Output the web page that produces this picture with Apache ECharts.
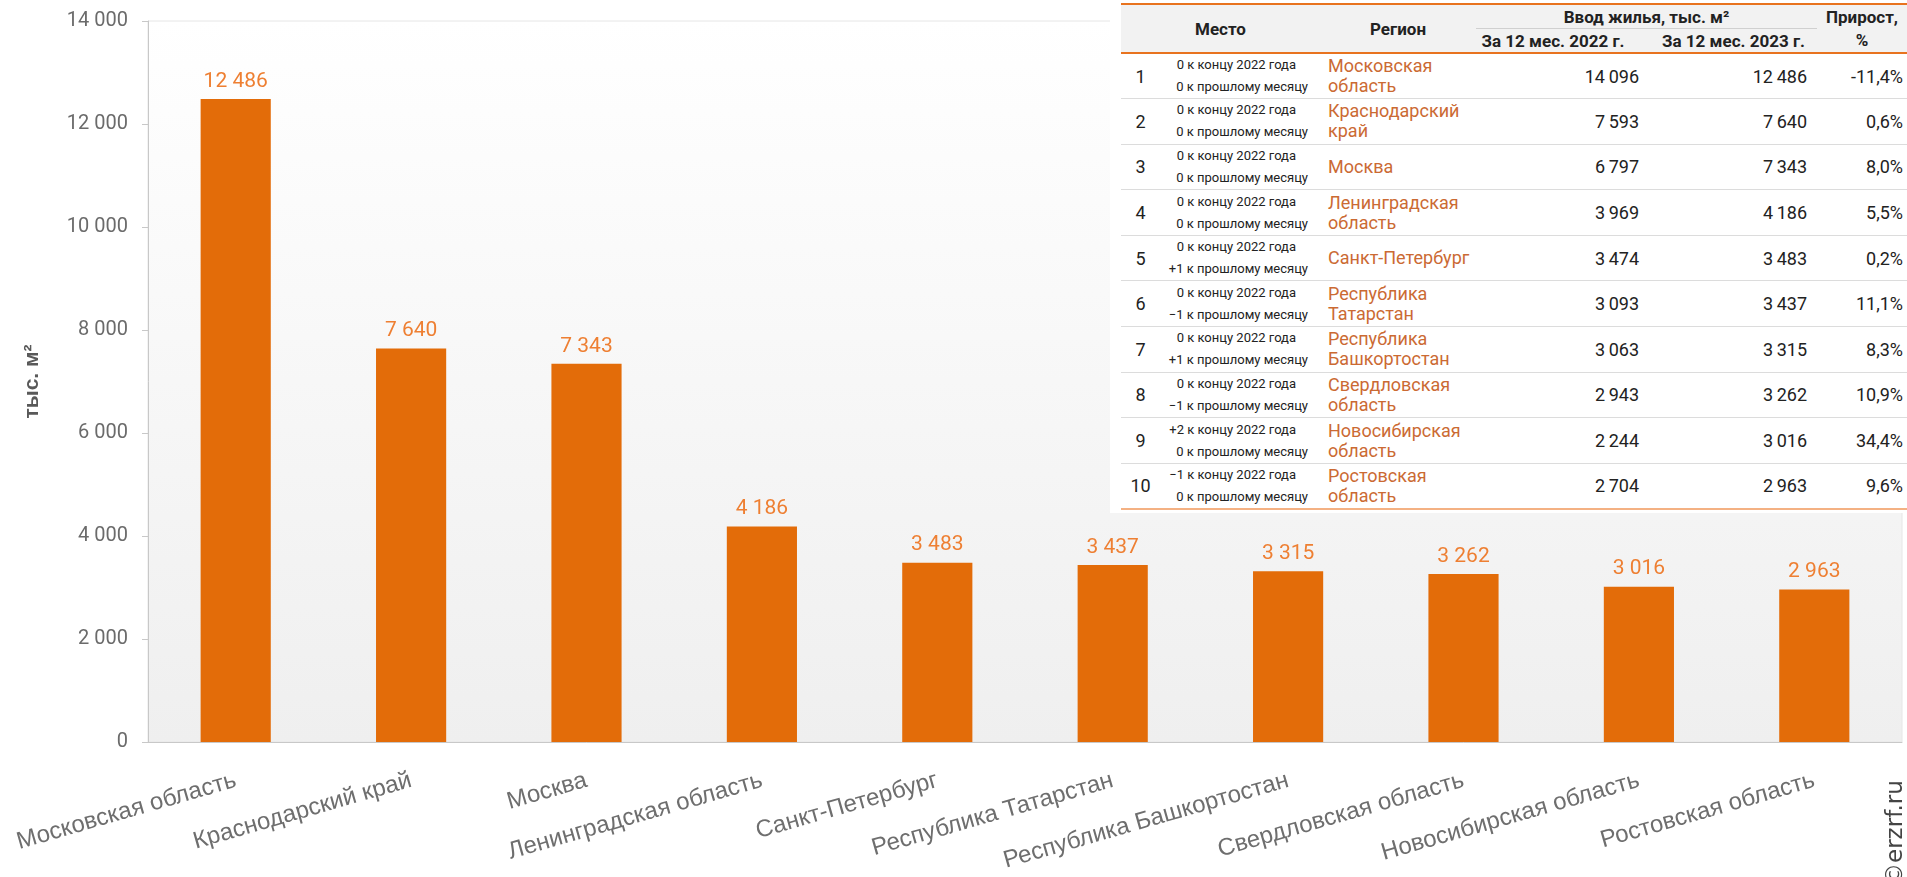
<!DOCTYPE html>
<html>
<head>
<meta charset="utf-8">
<title>Ввод жилья по регионам</title>
<script src="https://cdn.jsdelivr.net/npm/echarts@6/dist/echarts.min.js"></script>
<style>
  html, body { margin: 0; padding: 0; width: 1907px; height: 877px; overflow: hidden; background: #fff; }
  #chart { position: absolute; left: 0; top: 0; width: 1907px; height: 877px; }
  #tblBox { position: absolute; left: 1110px; top: 0; width: 797px; height: 513px; background: #fff; overflow: hidden; }
  #tbl { position: absolute; left: 11px; top: 3px; width: 786px; border-collapse: collapse; table-layout: fixed;
         font-family: Roboto, 'Noto Sans', sans-serif; color: #222; }
  #tbl th { font-weight: bold; font-size: 17px; padding: 0; background: #f2f2f2; line-height: 20px; }
  #tbl thead tr:first-child th { border-top: 2px solid #e8731f; }
  #tbl thead tr:last-child th, #tbl th.tall { border-bottom: 2px solid #e8731f; }
  #tbl th.sub { border-bottom: 1px solid #d0d0d0; }
  #tbl thead tr th { height: 23px; }
  #tbl td { height: 45.6px; box-sizing: border-box; padding: 0; border-bottom: 1px solid #dcdcdc; font-size: 18px; }
  #tbl tbody tr:last-child td { border-bottom: 2px solid #f4b183; }
  .rank { text-align: center; }
  .chg { text-align: right; font-size: 13px !important; line-height: 22px; }
  .chg div.l1 { padding-right: 24px; }
  .chg div.l2 { padding-right: 12px; }
  .reg { color: #cb6a33; padding-left: 8px !important; line-height: 20px; }
  .num { text-align: right; }
</style>
</head>
<body>
<div id="chart"></div>
<div id="tblBox">
  <table id="tbl">
    <colgroup>
      <col style="width:39px"><col style="width:160px"><col style="width:156px">
      <col style="width:170px"><col style="width:171px"><col style="width:90px">
    </colgroup>
    <thead>
      <tr>
        <th colspan="2" rowspan="2" class="tall">Место</th>
        <th rowspan="2" class="tall">Регион</th>
        <th colspan="2" class="sub">Ввод жилья, тыс. м²</th>
        <th>Прирост,</th>
      </tr>
      <tr>
        <th style="padding-right:16px">За 12 мес. 2022 г.</th>
        <th style="padding-left:4px">За 12 мес. 2023 г.</th>
        <th>%</th>
      </tr>
    </thead>
    <tbody id="tbody"></tbody>
  </table>
</div>
<script>
// data
var regions = ['Московская область', 'Краснодарский край', 'Москва', 'Ленинградская область',
  'Санкт-Петербург', 'Республика Татарстан', 'Республика Башкортостан',
  'Свердловская область', 'Новосибирская область', 'Ростовская область'];
var area2023 = [12486, 7640, 7343, 4186, 3483, 3437, 3315, 3262, 3016, 2963];
var area2022 = [14096, 7593, 6797, 3969, 3474, 3093, 3063, 2943, 2244, 2704];
var growth = [-11.4, 0.6, 8.0, 5.5, 0.2, 11.1, 8.3, 10.9, 34.4, 9.6];
var placeVsYear = ['0', '0', '0', '0', '0', '0', '0', '0', '+2', '\u22121'];
var placeVsMonth = ['0', '0', '0', '0', '+1', '\u22121', '+1', '\u22121', '0', '0'];

var yMin = 0, yMax = 14000, yStep = 2000;

function fmt(n, sep) {
  return String(n).replace(/\B(?=(\d{3})+(?!\d))/g, sep || ' ');
}

// table
var rows = '';
for (var i = 0; i < regions.length; i++) {
  rows += '<tr>' +
    '<td class="rank">' + (i + 1) + '</td>' +
    '<td class="chg"><div class="l1">' + placeVsYear[i] + ' к концу 2022 года</div>' +
    '<div class="l2">' + placeVsMonth[i] + ' к прошлому месяцу</div></td>' +
    '<td class="reg">' + regions[i] + '</td>' +
    '<td class="num" style="padding-right:7px">' + fmt(area2022[i], '\u2009') + '</td>' +
    '<td class="num" style="padding-right:10px">' + fmt(area2023[i], '\u2009') + '</td>' +
    '<td class="num" style="padding-right:4px">' + growth[i].toFixed(1).replace('.', ',') + '%</td>' +
    '</tr>';
}
document.getElementById('tbody').innerHTML = rows;

// chart
var chart = echarts.init(document.getElementById('chart'));
var option = {
  animation: false,
  grid: {
    left: 148, right: 5, top: 21, bottom: 135,
    outerBoundsMode: 'none',
    show: true,
    borderColor: '#e6e6e6',
    borderWidth: 1,
    backgroundColor: new echarts.graphic.LinearGradient(0, 0, 0, 1, [
      { offset: 0, color: '#ffffff' },
      { offset: 1, color: '#efefef' }
    ])
  },
  xAxis: {
    type: 'category',
    data: regions,
    axisLine: { lineStyle: { color: '#c8c8c8' } },
    axisTick: { length: 6, lineStyle: { color: '#c8c8c8' } },
    axisLabel: {
      interval: 0,
      rotate: 16,
      margin: 38,
      color: '#6e6e6e',
      fontSize: 24,
      fontFamily: "'Liberation Sans', Arial, sans-serif"
    }
  },
  yAxis: {
    type: 'value',
    min: yMin,
    max: yMax,
    interval: yStep,
    name: 'тыс. м²',
    nameLocation: 'middle',
    nameGap: 105,
    nameTextStyle: {
      color: '#595959',
      fontSize: 21,
      fontWeight: 'bold',
      fontFamily: "'Liberation Sans', Arial, sans-serif"
    },
    axisLine: { show: true, lineStyle: { color: '#c8c8c8' } },
    axisTick: { show: true, length: 6, lineStyle: { color: '#c8c8c8' } },
    splitLine: { show: false },
    axisLabel: {
      margin: 20,
      color: '#6b6b6b',
      fontSize: 20,
      fontFamily: 'Roboto, sans-serif',
      formatter: function (v) { return fmt(v); }
    }
  },
  series: [{
    type: 'bar',
    data: area2023,
    barWidth: '40%',
    itemStyle: { color: '#e36c09' },
    label: {
      show: true,
      position: 'top',
      distance: 7,
      color: '#ee7f32',
      fontSize: 21,
      fontFamily: 'Roboto, sans-serif',
      formatter: function (p) { return fmt(p.value); }
    }
  }],
  graphic: [{
    type: 'text',
    x: 1908,
    y: 886,
    rotation: Math.PI / 2,
    z: 100,
    style: {
      text: '©erzrf.ru',
      fill: '#444',
      font: "23px 'DejaVu Sans', sans-serif",
      align: 'left',
      verticalAlign: 'bottom',
      textAlign: 'left',
      textVerticalAlign: 'bottom'
    }
  }]
};
chart.setOption(option);
</script>
</body>
</html>
